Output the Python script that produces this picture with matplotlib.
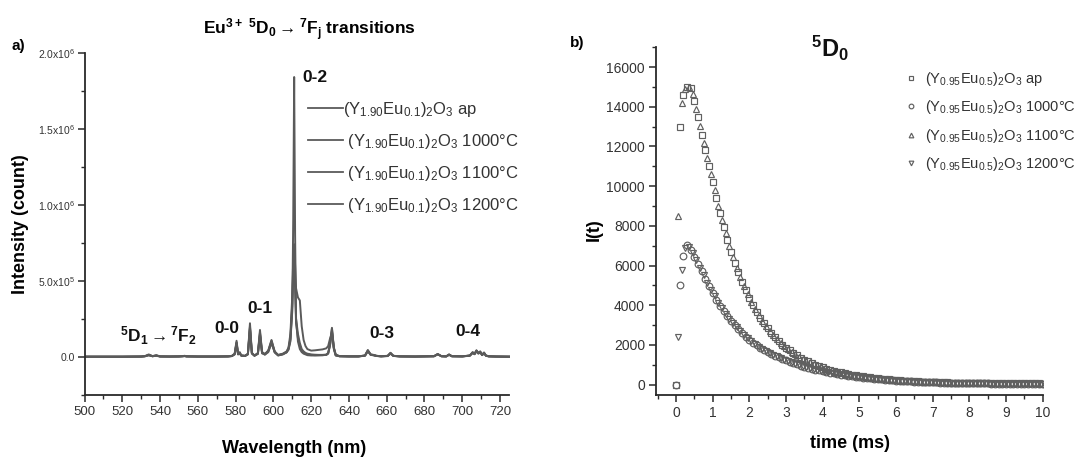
import numpy as np
import matplotlib
matplotlib.use("Agg")
import matplotlib.pyplot as plt
from matplotlib.ticker import MultipleLocator, FixedLocator, FixedFormatter

plt.rcParams['font.family'] = ['Liberation Sans', 'DejaVu Sans']
plt.rcParams['mathtext.fontset'] = 'custom'
plt.rcParams['mathtext.rm'] = 'Liberation Sans'
plt.rcParams['mathtext.it'] = 'Liberation Sans:italic'
plt.rcParams['mathtext.bf'] = 'Liberation Sans:bold'

# ---------------- Panel a: emission spectra ----------------
wavelength = [500, 510, 520, 530, 532, 534, 536, 538, 540, 545,
              550, 552, 553, 554, 560, 570, 576, 578, 579.5, 580.5,
              581.3, 582.2, 583, 585, 586.5, 587.6, 588.6, 590, 591.8, 592.9,
              594, 595.5, 597.3, 599, 600.7, 602.5, 605, 607, 608, 609,
              610, 610.5, 611, 611.5, 612, 613, 614, 615, 616, 617,
              618, 620, 622, 624, 626, 628, 629, 630, 631, 632,
              633, 635, 640, 645, 648.5, 650, 651.5, 653, 654.5, 657,
              660.5, 662, 663.5, 667, 675, 685, 687, 689, 691.5, 693,
              694.5, 700, 704, 705.5, 706.5, 707.5, 708.5, 709.5, 710.5, 711.5,
              712.5, 714, 718, 725]

int_ap = [0, 0, 0, 1000, 4000, 15000, 4000, 10000, 2000, 1000,
          2000, 4000, 6000, 3000, 1000, 1000, 2000, 5000, 20000, 105000,
          20000, 30000, 8000, 5000, 20000, 220000, 25000, 6000, 25000, 176000,
          30000, 15000, 40000, 110000, 30000, 8000, 15000, 30000, 45000, 100000,
          300000, 900000, 1840000, 800000, 250000, 100000, 50000, 30000, 20000, 15000,
          10000, 8000, 8000, 9000, 10000, 12000, 20000, 80000, 185000, 50000,
          8000, 3000, 2000, 2000, 8000, 44000, 15000, 12000, 6000, 3000,
          6000, 26000, 6000, 2000, 1000, 3000, 18000, 3000, 2000, 15000,
          3000, 2000, 8000, 30000, 20000, 42000, 25000, 35000, 12000, 28000,
          8000, 3000, 1000, 0]

int_1000 = [0, 0, 0, 1000, 3000, 12000, 3000, 8000, 2000, 1000,
            2000, 3000, 5000, 2000, 1000, 1000, 2000, 5000, 18000, 95000,
            18000, 25000, 8000, 6000, 18000, 200000, 25000, 8000, 22000, 160000,
            30000, 18000, 40000, 105000, 35000, 12000, 20000, 35000, 60000, 150000,
            400000, 650000, 740000, 600000, 450000, 390000, 370000, 200000, 110000, 70000,
            50000, 40000, 42000, 45000, 48000, 55000, 70000, 120000, 160000, 60000,
            15000, 4000, 2000, 2000, 8000, 40000, 14000, 11000, 6000, 3000,
            5000, 24000, 6000, 2000, 1000, 3000, 17000, 3000, 2000, 14000,
            3000, 2000, 8000, 28000, 18000, 40000, 24000, 33000, 12000, 26000,
            8000, 3000, 1000, 0]

int_1100 = [0, 0, 0, 1000, 3000, 10000, 3000, 7000, 2000, 1000,
            2000, 3000, 4000, 2000, 1000, 1000, 2000, 4000, 16000, 90000,
            16000, 22000, 7000, 5000, 16000, 190000, 22000, 7000, 20000, 150000,
            25000, 15000, 35000, 95000, 30000, 10000, 18000, 30000, 55000, 120000,
            350000, 600000, 720000, 500000, 250000, 150000, 90000, 50000, 35000, 25000,
            20000, 15000, 13000, 12000, 12000, 14000, 25000, 85000, 190000, 60000,
            10000, 3000, 2000, 2000, 7000, 38000, 13000, 10000, 5000, 2000,
            5000, 22000, 5000, 2000, 1000, 3000, 16000, 3000, 2000, 13000,
            3000, 2000, 7000, 26000, 17000, 38000, 22000, 30000, 11000, 24000,
            7000, 2000, 1000, 0]

int_1200 = [0, 0, 0, 1000, 3000, 9000, 3000, 6000, 1000, 1000,
            1000, 3000, 4000, 2000, 1000, 1000, 2000, 4000, 15000, 85000,
            15000, 20000, 7000, 5000, 15000, 180000, 20000, 7000, 18000, 140000,
            22000, 14000, 30000, 90000, 28000, 9000, 16000, 28000, 50000, 110000,
            330000, 560000, 690000, 450000, 220000, 120000, 70000, 40000, 28000, 20000,
            16000, 12000, 10000, 10000, 10000, 12000, 22000, 75000, 170000, 55000,
            9000, 3000, 2000, 2000, 6000, 35000, 12000, 9000, 5000, 2000,
            4000, 20000, 5000, 2000, 1000, 3000, 15000, 3000, 2000, 12000,
            3000, 2000, 6000, 24000, 16000, 35000, 20000, 28000, 10000, 22000,
            6000, 2000, 1000, 0]

spec_labels = [r'(Y$_{1.90}$Eu$_{0.1}$)$_2$O$_3$ ap',
               r' (Y$_{1.90}$Eu$_{0.1}$)$_2$O$_3$ 1000°C',
               r' (Y$_{1.90}$Eu$_{0.1}$)$_2$O$_3$ 1100°C',
               r' (Y$_{1.90}$Eu$_{0.1}$)$_2$O$_3$ 1200°C']

a_ytick_vals = [0, 5e5, 1e6, 1.5e6, 2e6]
a_ytick_text = ['0.0', r'5.0x10$^5$', r'1.0x10$^6$', r'1.5x10$^6$', r'2.0x10$^6$']

# transition annotations: (text, wavelength, intensity)
trans_text = ['0-2', '0-1', '0-0', '0-3', '0-4',
              r'$^{\mathbf{5}}$D$_{\mathbf{1}}$$\rightarrow$$^{\mathbf{7}}$F$_{\mathbf{2}}$']
trans_wl = [615.5, 593.0, 575.2, 657.6, 703.0, 539.0]
trans_int = [1.84e6, 3.2e5, 1.87e5, 1.5e5, 1.64e5, 1.40e5]
trans_ha = ['left', 'center', 'center', 'center', 'center', 'center']

# ---------------- Panel b: 5D0 decay curves ----------------
# series sampled every 0.1 ms; ap & 1000C start at 0.0 ms, 1100C & 1200C at 0.05 ms
decay_ap = [0, 13000, 14600, 15000, 14950, 14300, 13500, 12600, 11800, 11000,
            10200, 9400, 8650, 7950, 7300, 6700, 6150, 5650, 5180, 4750,
            4350, 3990, 3660, 3360, 3080, 2830, 2600, 2390, 2200, 2020,
            1860, 1720, 1590, 1470, 1360, 1260, 1170, 1080, 1000, 930,
            865, 805, 750, 700, 655, 612, 572, 535, 500, 468,
            438, 410, 384, 360, 338, 317, 298, 280, 263, 247,
            232, 218, 205, 193, 182, 172, 162, 153, 145, 137,
            130, 124, 118, 112, 107, 102, 98, 94, 90, 87,
            84, 81, 78, 76, 74, 72, 70, 68, 66, 65,
            63, 62, 61, 60, 59, 58, 57, 56, 55, 55,
            54]

decay_1000 = [0, 5000, 6500, 7050, 6800, 6450, 6100, 5700, 5300, 4950,
              4600, 4280, 3980, 3700, 3440, 3200, 2980, 2780, 2590, 2420,
              2260, 2110, 1970, 1840, 1740, 1650, 1550, 1460, 1375, 1295,
              1220, 1150, 1085, 1020, 960, 905, 852, 803, 757, 713,
              672, 633, 597, 562, 530, 500, 471, 444, 418, 394,
              371, 349, 329, 310, 292, 275, 259, 244, 229, 216,
              203, 191, 180, 169, 159, 150, 141, 133, 125, 118,
              111, 105, 99, 94, 89, 84, 80, 76, 72, 69,
              66, 63, 61, 59, 57, 55, 53, 51, 50, 48,
              47, 46, 45, 44, 43, 42, 41, 41, 40, 40,
              39]

decay_1100 = [8500, 14200, 14900, 15000, 14650, 13900, 13050, 12200, 11400, 10600,
              9800, 9020, 8300, 7620, 7000, 6420, 5900, 5410, 4960, 4550,
              4170, 3820, 3510, 3220, 2950, 2710, 2490, 2290, 2110, 1940,
              1790, 1650, 1530, 1410, 1310, 1210, 1120, 1040, 965, 897,
              835, 777, 725, 677, 633, 592, 553, 517, 484, 453,
              424, 397, 372, 349, 327, 307, 289, 271, 255, 239,
              225, 211, 199, 187, 177, 167, 157, 149, 141, 133,
              127, 121, 115, 109, 104, 100, 96, 92, 88, 85,
              82, 79, 77, 75, 73, 71, 69, 67, 65, 64,
              62, 61, 60, 59, 58, 57, 56, 55, 55, 54]

decay_1200 = [2400, 5800, 6900, 6950, 6620, 6280, 5900, 5500, 5120, 4770,
              4440, 4130, 3840, 3570, 3320, 3090, 2880, 2685, 2505, 2340,
              2185, 2040, 1905, 1790, 1695, 1600, 1505, 1418, 1335, 1258,
              1185, 1118, 1052, 990, 932, 878, 827, 780, 735, 692,
              652, 615, 580, 546, 515, 486, 457, 431, 406, 382,
              360, 339, 320, 301, 283, 267, 251, 236, 222, 209,
              197, 185, 174, 164, 154, 145, 137, 129, 121, 114,
              108, 102, 96, 91, 86, 82, 78, 74, 70, 67,
              64, 62, 60, 58, 56, 54, 52, 50, 49, 47,
              46, 45, 44, 43, 42, 41, 41, 40, 40, 39]

decay_start = [0.0, 0.0, 0.05, 0.05]
decay_step = 0.1

decay_labels = [r'(Y$_{0.95}$Eu$_{0.5}$)$_2$O$_3$ ap',
                r'(Y$_{0.95}$Eu$_{0.5}$)$_2$O$_3$ 1000°C',
                r'(Y$_{0.95}$Eu$_{0.5}$)$_2$O$_3$ 1100°C',
                r'(Y$_{0.95}$Eu$_{0.5}$)$_2$O$_3$ 1200°C']
decay_markers = ['s', 'o', '^', 'v']

# ---------------- Figure ----------------
W, H = 1080, 457
fig = plt.figure(figsize=(W / 100, H / 100), dpi=100)
fig.patch.set_facecolor('white')

def box(l, t, r, b):
    return [l / W, 1 - b / H, (r - l) / W, (b - t) / H]

axa = fig.add_axes(box(84.5, 52.7, 509.5, 394.7))
axb = fig.add_axes(box(656, 47.3, 1042.7, 394.5))

line_col = '#5a5a5a'
spine_col = '#2a2a2a'
bold_fam = ['Liberation Sans Narrow', 'Liberation Sans', 'DejaVu Sans']

for ax in (axa, axb):
    ax.spines['top'].set_visible(False)
    ax.spines['right'].set_visible(False)
    for s in ('left', 'bottom'):
        ax.spines[s].set_linewidth(1.3)
        ax.spines[s].set_color(spine_col)
    ax.tick_params(which='major', direction='out', length=5, width=1.1, color=spine_col)
    ax.tick_params(which='minor', direction='out', length=3, width=1.0, color=spine_col)
    ax.patch.set_alpha(0)

# Panel a
for vals, lab in zip([int_ap, int_1000, int_1100, int_1200], spec_labels):
    axa.plot(wavelength, vals, color=line_col, lw=1.4, label=lab)

axa.set_xlim(500, 725)
axa.set_ylim(-2.5e5, 2.0e6)
axa.xaxis.set_major_locator(MultipleLocator(20))
axa.xaxis.set_minor_locator(MultipleLocator(10))
axa.yaxis.set_major_locator(FixedLocator(a_ytick_vals))
axa.yaxis.set_major_formatter(FixedFormatter(a_ytick_text))
axa.yaxis.set_minor_locator(MultipleLocator(2.5e5))
axa.tick_params(axis='x', labelsize=9.5, pad=3, colors=spine_col, labelcolor='#333333')
axa.tick_params(axis='y', labelsize=7.5, pad=2, colors=spine_col, labelcolor='#333333')

for txt, wl, iv, ha in zip(trans_text, trans_wl, trans_int, trans_ha):
    axa.text(wl, iv, txt, ha=ha, va='center', fontsize=12.5, fontweight='bold',
             family=bold_fam, color='#111111')

leg_a = axa.legend(loc='upper left', bbox_to_anchor=(0.525, 0.862), frameon=False,
                   fontsize=12, handlelength=2.1, handletextpad=0.05,
                   labelspacing=0.78, borderaxespad=0, borderpad=0)
for h in leg_a.get_lines():
    h.set_linewidth(1.3)
for t in leg_a.get_texts():
    t.set_color('#333333')

fig.text(309.7 / W, 1 - 30 / H,
         r'Eu$^{\mathbf{3+}}$ $^{\mathbf{5}}$D$_{\mathbf{0}}$$\rightarrow$$^{\mathbf{7}}$F$_{\mathbf{j}}$ transitions',
         ha='center', va='center', fontsize=12.5, fontweight='bold', family=bold_fam)
fig.text(18 / W, 1 - 46 / H, 'a)', ha='center', va='center', fontsize=11,
         fontweight='bold', family=bold_fam)
fig.text(21 / W, 1 - 224 / H, 'Intensity (count)', rotation=90, ha='center', va='center',
         fontsize=13, fontweight='bold', family=bold_fam)
fig.text(294 / W, 1 - 440 / H, 'Wavelength (nm)', ha='center', va='top',
         fontsize=13, fontweight='bold', family=bold_fam)

# Panel b
for vals, start, lab, mk in zip([decay_ap, decay_1000, decay_1100, decay_1200],
                                decay_start, decay_labels, decay_markers):
    t = np.round(start + decay_step * np.arange(len(vals)), 3)
    axb.plot(t, vals, linestyle='none', marker=mk, markersize=4.8,
             markerfacecolor='none', markeredgecolor='#606060', markeredgewidth=0.85,
             label=lab)

axb.set_xlim(-0.55, 10)
axb.set_ylim(-500, 17000)
axb.xaxis.set_major_locator(MultipleLocator(1))
axb.xaxis.set_minor_locator(MultipleLocator(0.5))
axb.yaxis.set_major_locator(MultipleLocator(2000))
axb.yaxis.set_minor_locator(MultipleLocator(1000))
axb.tick_params(axis='both', labelsize=10, pad=3, colors=spine_col, labelcolor='#333333')

leg_b = axb.legend(loc='upper left', bbox_to_anchor=(0.64, 0.935), frameon=False,
                   fontsize=10.5, handlelength=1.0, handletextpad=0.45,
                   labelspacing=0.72, borderaxespad=0, borderpad=0, markerscale=0.7)
for t in leg_b.get_texts():
    t.set_color('#333333')

fig.text(829.6 / W, 1 - 48 / H, r'$^{\mathbf{5}}\mathbf{D}_{\mathbf{0}}$', ha='center',
         va='center', fontsize=17, color='#111111')
fig.text(577.4 / W, 1 - 43 / H, 'b)', ha='center', va='center', fontsize=11,
         fontweight='bold', family=bold_fam)
fig.text(594 / W, 1 - 230 / H, 'I(t)', rotation=90, ha='center', va='center',
         fontsize=13, fontweight='bold', family=bold_fam)
fig.text(849.5 / W, 1 - 443.5 / H, 'time (ms)', ha='center', va='center',
         fontsize=13, fontweight='bold', family=bold_fam)

fig.savefig('out.png', dpi=100, facecolor='white')
